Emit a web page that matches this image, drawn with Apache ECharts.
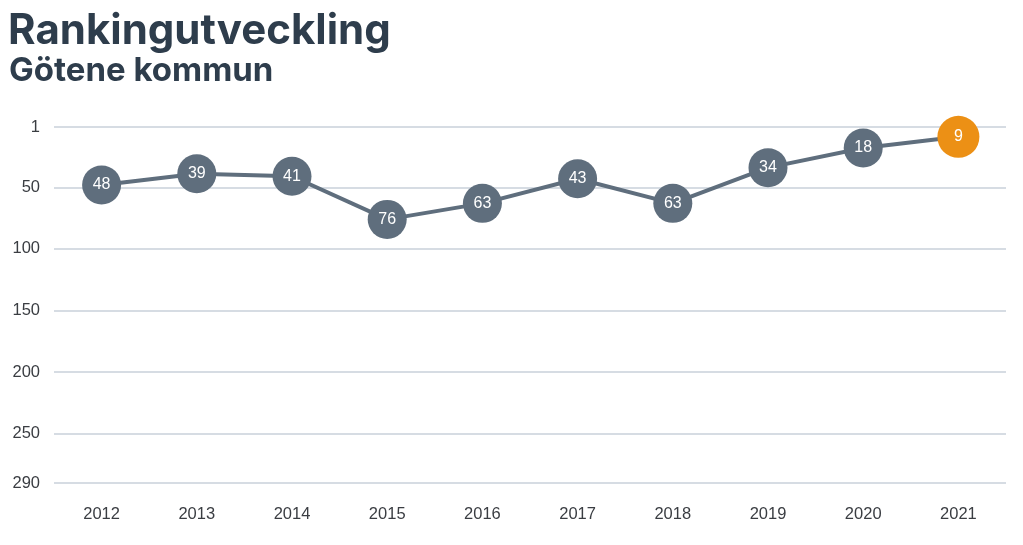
<!DOCTYPE html>
<html><head><meta charset="utf-8">
<script src="https://cdn.jsdelivr.net/npm/echarts@6/dist/echarts.min.js"></script>
<style>html,body{margin:0;padding:0;background:#fff}#c{width:1023px;height:545px}</style>
</head><body><div id="c"></div>
<script>
const years = ['2012','2013','2014','2015','2016','2017','2018','2019','2020','2021'];
const ranks = [48, 39, 41, 76, 63, 43, 63, 34, 18, 9];
const yTicks = [1, 50, 100, 150, 200, 250, 290];
const titleText = 'Rankingutveckling';
const subtitleText = 'Götene kommun';

const lineColor = '#5f6e7d';
const hiColor = '#ec9015';
const data = ranks.map((v, i) => i === ranks.length - 1
  ? {value: v, symbolSize: 42, itemStyle: {color: hiColor}}
  : {value: v});

const chart = echarts.init(document.getElementById('c'));
chart.setOption({
  animation: false,
  title: [
    {text: titleText, left: 3, top: 5, textStyle: {fontFamily: 'Inter', fontWeight: 'bold', fontSize: 42, color: '#2e3d4c'}},
    {text: subtitleText, left: 4, top: 50, textStyle: {fontFamily: 'Inter', fontWeight: 'bold', fontSize: 33, color: '#2e3d4c'}}
  ],
  grid: {left: 54, right: 17, top: 127, bottom: 62, containLabel: false},
  xAxis: {
    type: 'category', data: years, boundaryGap: true,
    axisLine: {show: false}, axisTick: {show: false},
    axisLabel: {color: '#3a3d42', fontSize: 16.5, fontFamily: 'Liberation Sans', margin: 23}
  },
  yAxis: {
    type: 'value', inverse: true, min: 1, max: 290,
    axisLine: {show: false},
    axisTick: {show: false, customValues: yTicks},
    axisLabel: {customValues: yTicks, color: '#3a3d42', fontSize: 16.5, fontFamily: 'Liberation Sans', margin: 14},
    splitLine: {show: true, lineStyle: {color: '#c8d0da', width: 1.5}}
  },
  series: [{
    type: 'line', data: data,
    symbol: 'circle', symbolSize: 39,
    lineStyle: {color: lineColor, width: 4},
    itemStyle: {color: lineColor},
    label: {show: true, position: 'inside', color: '#fff', fontSize: 16, fontFamily: 'Liberation Sans'}
  }]
});
</script></body></html>
